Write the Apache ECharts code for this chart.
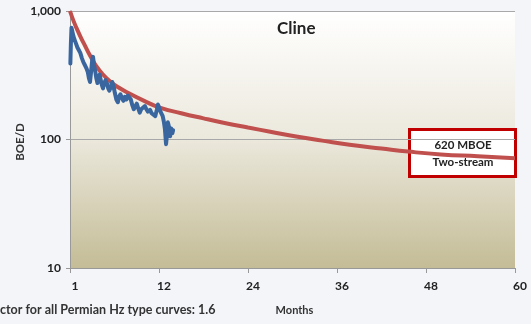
<!DOCTYPE html>
<html>
<head>
<meta charset="utf-8">
<script src="https://cdn.jsdelivr.net/npm/echarts@6/dist/echarts.min.js"></script>
<style>
  html, body { margin: 0; padding: 0; background: #f3f5f9; }
  #chart { width: 531px; height: 324px; }
</style>
</head>
<body>
<div id="chart"></div>
<script>
// type curve (red), months vs BOE/D
const curveMonths = [0, 0.5, 1, 1.5, 2, 2.7, 3.5, 4.5, 5.5, 6.5, 8, 10, 12, 15, 18, 21, 24, 27, 30.7, 34, 37.7, 42, 45.6, 50, 55, 60]
const curveValues = [1000, 830, 710, 615, 540, 450, 375, 318, 280, 255, 228, 200, 178, 160, 146, 134, 124, 115, 105, 98, 91, 85, 80.5, 76.5, 74, 71.5]

// actual production (blue)
const prodMonths = [
  0.05, 0.12, 0.2, 0.3, 0.45, 0.6, 0.8, 1.0, 1.2, 1.4, 1.6, 1.8, 2.0, 2.2, 2.4, 2.55, 2.7, 2.85,
  3.0, 3.1, 3.25, 3.4, 3.55, 3.7, 3.85, 4.0, 4.15, 4.3, 4.45, 4.6, 4.8, 5.0, 5.15, 5.3, 5.5, 5.7,
  5.9, 6.05, 6.25, 6.45, 6.6, 6.8, 7.0, 7.2, 7.4, 7.6, 7.8, 8.0, 8.2, 8.4, 8.6, 8.8, 9.0, 9.2,
  9.4, 9.6, 9.8, 10.1, 10.3, 10.5, 10.8, 11.0, 11.2, 11.5, 11.7, 11.85, 12.0, 12.2, 12.5, 12.65,
  12.8, 12.95, 13.05, 13.2, 13.35, 13.5, 13.65, 13.8, 13.9
]
const prodValues = [
  390, 560, 740, 700, 640, 600, 560, 520, 495, 470, 430, 400, 380, 360, 335, 300, 280, 340,
  420, 440, 380, 340, 300, 275, 300, 320, 290, 265, 250, 275, 290, 270, 250, 240, 255, 280,
  255, 230, 205, 195, 215, 225, 210, 200, 215, 205, 220, 225, 205, 185, 172, 172, 190, 175,
  162, 172, 178, 182, 172, 165, 170, 160, 155, 152, 170, 187, 178, 165, 152, 138,
  120, 92, 105, 136, 125, 106, 122, 112, 118
]

const yTicks = [10, 100, 1000]
const xTickLabels = { 0: '1', 12: '12', 24: '24', 36: '36', 48: '48', 60: '60' }

const font = 'Lato, "Open Sans", sans-serif'
const chart = echarts.init(document.getElementById('chart'))

chart.setOption({
  backgroundColor: '#f3f5f9',
  animation: false,
  grid: {
    left: 70, right: 16, top: 11, bottom: 56,
    show: true,
    borderWidth: 0,
    backgroundColor: new echarts.graphic.LinearGradient(0, 0, 0, 1, [
      { offset: 0, color: '#ffffff' },
      { offset: 0.5, color: '#ebe8dc' },
      { offset: 1, color: '#c4bc96' }
    ])
  },
  xAxis: {
    type: 'value',
    min: 0, max: 60, interval: 12,
    name: 'Months',
    nameLocation: 'middle',
    nameGap: 37,
    nameTextStyle: { color: '#333', fontSize: 11, fontWeight: 'bold', fontFamily: font, padding: [0, 0, 0, 4] },
    axisLine: { show: true, lineStyle: { color: '#999', width: 1 } },
    axisTick: { show: true, length: 5, lineStyle: { color: '#999' } },
    axisLabel: {
      color: '#222', fontSize: 12, fontWeight: 'bold', fontFamily: font, margin: 12,
      padding: [0, 0, 0, 10],
      formatter: v => xTickLabels[v] || ''
    },
    splitLine: { show: false }
  },
  yAxis: {
    type: 'log',
    logBase: 10,
    min: yTicks[0], max: yTicks[yTicks.length - 1],
    axisLine: { show: true, lineStyle: { color: '#999', width: 1 } },
    axisTick: { show: true, length: 4, lineStyle: { color: '#999' } },
    axisLabel: {
      color: '#222', fontSize: 12, fontWeight: 'bold', fontFamily: font, margin: 9,
      formatter: v => v >= 1000 ? v.toLocaleString('en-US') : String(v)
    },
    splitLine: { show: true, lineStyle: { color: '#a8a8a8', width: 1 } }
  },
  series: [
    {
      name: 'Type curve',
      type: 'line',
      data: curveMonths.map((m, i) => [m, curveValues[i]]),
      smooth: 0.5,
      showSymbol: false,
      lineStyle: { color: '#c0504d', width: 4 },
      z: 2
    },
    {
      name: 'Production',
      type: 'line',
      data: prodMonths.map((m, i) => [m, prodValues[i]]),
      showSymbol: false,
      lineStyle: { color: '#3a66a0', width: 4, join: 'round', cap: 'round' },
      z: 3
    }
  ],
  graphic: [
    {
      type: 'text', left: 277, top: 20,
      style: { text: 'Cline', fill: '#222', font: 'bold 17px ' + font }
    },
    {
      type: 'text', x: 20, y: 142, rotation: Math.PI / 2,
      style: { text: 'BOE/D', fill: '#333', font: 'bold 11.5px ' + font, align: 'center', verticalAlign: 'middle' }
    },
    {
      type: 'text', left: 0, top: 303,
      style: { text: 'ctor for all Permian Hz type curves: 1.6', fill: '#333', font: 'bold 12.5px ' + font }
    },
    {
      type: 'group', left: 408, top: 128, z: 10,
      children: [
        {
          type: 'rect',
          shape: { x: 1.5, y: 1.5, width: 106, height: 47 },
          style: { fill: '#ffffff', stroke: '#c00000', lineWidth: 3 }
        },
        {
          type: 'text', x: 55, y: 17,
          style: { text: '620 MBOE', fill: '#222', font: 'bold 11.5px ' + font, align: 'center', verticalAlign: 'middle' }
        },
        {
          type: 'text', x: 55, y: 34,
          style: { text: 'Two-stream', fill: '#222', font: 'bold 11.5px ' + font, align: 'center', verticalAlign: 'middle' }
        }
      ]
    }
  ]
})
</script>
</body>
</html>
